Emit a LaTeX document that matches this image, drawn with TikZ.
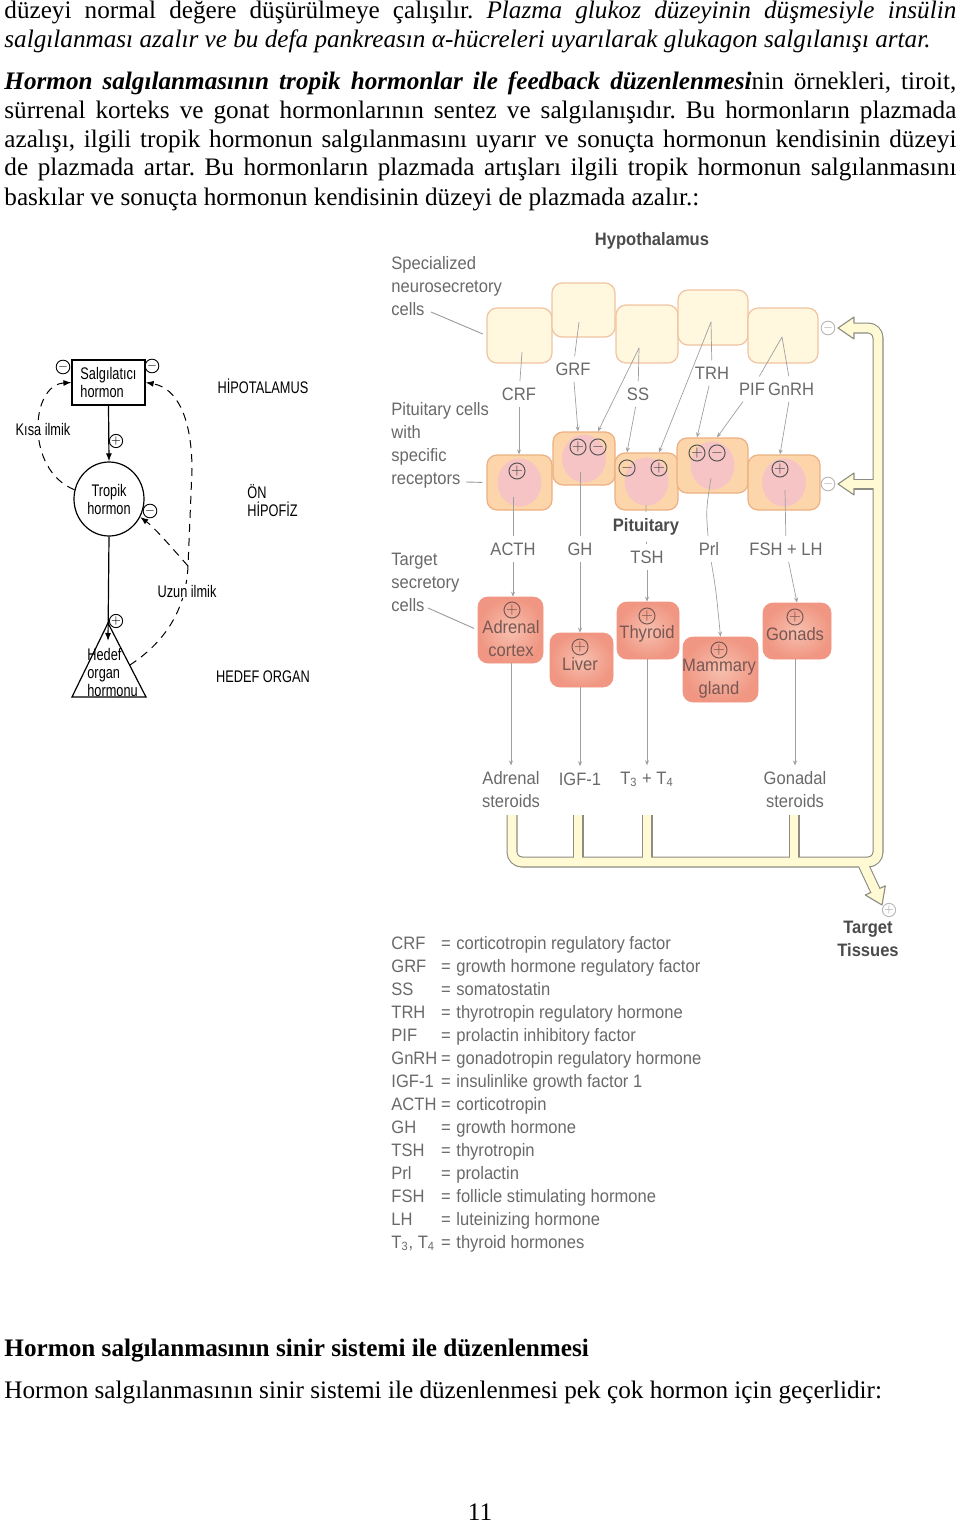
\documentclass[tikz,border=0pt]{standalone}
\usepackage{fontspec}
\setmainfont{Liberation Serif}
\newfontfamily\figfont{Liberation Sans}[FakeStretch=0.92]
\newfontfamily\condfont{Liberation Sans}[FakeStretch=0.76]
\usetikzlibrary{arrows.meta, positioning, calc, shapes.geometric}
\frenchspacing
\definecolor{labelgray}{RGB}{105,105,105}
\definecolor{titlegray}{RGB}{75,75,75}
\definecolor{hypofill}{RGB}{255,247,222}
\definecolor{hypoedge}{RGB}{240,196,160}
\definecolor{pitfill}{RGB}{252,214,170}
\definecolor{pitblob}{RGB}{246,196,196}
\definecolor{pitedge}{RGB}{236,176,130}
\definecolor{tgtouter}{RGB}{240,150,130}
\definecolor{tgtinner}{RGB}{247,192,175}
\definecolor{tgttext}{RGB}{120,88,84}
\definecolor{pipefill}{RGB}{255,250,212}
\definecolor{pipeedge}{RGB}{140,140,130}
\definecolor{signgray}{RGB}{85,85,85}

\begin{document}
\begin{tikzpicture}[
    x=0.5pt, y={(0pt,-0.5pt)},
    para/.style={inner sep=0pt, anchor=base west, font=\fontsize{12.6}{14}\selectfont},
    fig/.style={inner sep=1pt, text=labelgray, font=\figfont\fontsize{9}{11.5}\selectfont},
    figbold/.style={fig, text=titlegray, font=\figfont\bfseries\fontsize{9}{11.5}\selectfont},
    hlbl/.style={fig, inner sep=3pt},
    lft/.style={inner sep=0.5pt, font=\condfont\fontsize{8.4}{9}\selectfont},
    hcell/.style={draw=hypoedge, fill=hypofill, rounded corners=5pt, line width=0.6pt},
    pcell/.style={draw=pitedge, fill=pitfill, rounded corners=5pt, line width=0.6pt,
        path picture={\fill[pitblob] (path picture bounding box.center) ellipse (11pt and 12pt);}},
    tcell/.style={draw=tgtouter, shade, inner color=tgtinner, outer color=tgtouter, rounded corners=5pt},
    sgn/.style={circle, draw=signgray, line width=0.5pt, inner sep=0pt, minimum size=8pt, text=signgray, font=\fontsize{7}{7}\selectfont},
    tsgn/.style={sgn, draw=tgttext, text=tgttext},
    fbsgn/.style={sgn, draw=gray!55, text=gray!70, minimum size=6.5pt, font=\fontsize{5.5}{5.5}\selectfont},
    lsgn/.style={circle, draw, line width=0.45pt, inner sep=0pt, minimum size=5pt, font=\fontsize{5}{5}\selectfont},
    feed/.style={draw=gray!75, line width=0.35pt, -{Stealth[length=2.5pt,width=2pt]}},
    conn/.style={draw=gray!75, line width=0.35pt},
    leader/.style={draw=gray!80, line width=0.45pt, shorten >=2pt},
    larrow/.style={line width=0.6pt, -{Latex[length=4pt,width=3pt]}},
    loopd/.style={line width=0.5pt, dash pattern=on 4pt off 3pt, -{Latex[length=4pt,width=3pt]}},
    pipeout/.style={line width=5.5pt, draw=pipeedge, rounded corners=5pt},
    pipein/.style={line width=4.4pt, draw=pipefill, rounded corners=5pt},
    pipehead/.style={fill=pipefill, draw=pipeedge, line width=0.55pt, line join=round}
]
\useasboundingbox (0,0) rectangle (960,1525);

% running text above
\node[para] (t1) at (4,19) {\makebox[476pt][s]{düzeyi normal değere düşürülmeye çalışılır. \textit{Plazma glukoz düzeyinin düşmesiyle insülin}}};
\node[para] (t2) at (4,48) {\textit{salgılanması azalır ve bu defa pankreasın α-hücreleri uyarılarak glukagon salgılanışı artar.}};
\node[para] (t3) at (4,90) {\makebox[476pt][s]{\textbf{\textit{Hormon salgılanmasının tropik hormonlar ile feedback düzenlenmesi}}nin örnekleri, tiroit,}};
\node[para] (t4) at (4,119) {\makebox[476pt][s]{sürrenal korteks ve gonat hormonlarının sentez ve salgılanışıdır. Bu hormonların plazmada}};
\node[para] (t5) at (4,148) {\makebox[476pt][s]{azalışı, ilgili tropik hormonun salgılanmasını uyarır ve sonuçta hormonun kendisinin düzeyi}};
\node[para] (t6) at (4,176) {\makebox[476pt][s]{de plazmada artar. Bu hormonların plazmada artışları ilgili tropik hormonun salgılanmasını}};
\node[para] (t7) at (4,205) {baskılar ve sonuçta hormonun kendisinin düzeyi de plazmada azalır.:};

% left scheme: short and long loop
\node[draw, lft, line width=0.6pt, minimum width=36.5pt, minimum height=22.5pt, align=left] (srel) at (108.5,382.5) {Salgılatıcı\\hormon};
\node[draw, ellipse, lft, line width=0.6pt, minimum width=35pt, minimum height=37pt, inner sep=0pt, align=center] (trop) at (109,499) {Tropik\\hormon};
\coordinate (tapex) at (108,623);
\coordinate (tleft) at (72,697);
\coordinate (tright) at (146,697);
\draw[line width=0.6pt] (tapex) -- (tleft) -- (tright) -- cycle;
\node[lft, align=left, anchor=north west] (hedef) at (86,647) {Hedef\\organ\\hormonu};
\coordinate (tin) at (108,641);
\coordinate (tside) at ($(tapex)!0.57!(tright)$);
\coordinate (lbr) at (188,566);

\draw[larrow] (srel.south) -- (trop.north);
\draw[larrow] (trop.south) -- (tin);
\draw[loopd] (trop.165) .. controls (25,470) and (30,385) .. (srel.west);
\draw[loopd] (tside) .. controls (165,642) and (186,610) .. (lbr) -- (192,470) .. controls (192,420) and (178,388) .. (srel.east);
\draw[loopd] (lbr) .. controls (172,548) and (155,528) .. (trop.-30);

\node[lsgn] (ls1) at (63,367) {$-$};
\node[lsgn] (ls2) at (152,366) {$-$};
\node[lsgn] (ls3) at (116,441) {$+$};
\node[lsgn] (ls4) at (150,511) {$-$};
\node[lsgn] (ls5) at (116,621) {$+$};
\node[lft, fill=white] (kisa) at (43,429) {Kısa ilmik};
\node[lft, fill=white] (uzun) at (187,591) {Uzun ilmik};
\node[lft] (hipo) at (263,386) {HİPOTALAMUS};
\node[lft, align=left, anchor=west] (onhip) at (246,501) {ÖN\\HİPOFİZ};
\node[lft] (hdorg) at (263,677) {HEDEF ORGAN};

% hypothalamus cells
\node[figbold] (hypt) at (652,241) {Hypothalamus};
\node[hcell, minimum width=32.5pt, minimum height=27.5pt] (h1) at (519.5,335.5) {};
\node[hcell, minimum width=31.5pt, minimum height=27pt] (h2) at (583.5,310) {};
\node[hcell, minimum width=31pt, minimum height=29pt] (h3) at (647,334) {};
\node[hcell, minimum width=35pt, minimum height=27.5pt] (h4) at (713,317.5) {};
\node[hcell, minimum width=35pt, minimum height=27.5pt] (h5) at (783,335.5) {};

% pituitary cells
\node[pcell, minimum width=32.5pt, minimum height=27.5pt] (p1) at (519.5,482.5) {};
\node[pcell, minimum width=31pt, minimum height=26.5pt] (p2) at (584,458.5) {};
\node[pcell, minimum width=31.5pt, minimum height=28.5pt] (p3) at (646.5,481.5) {};
\node[pcell, minimum width=35.5pt, minimum height=27.5pt] (p4) at (712.5,465.5) {};
\node[pcell, minimum width=36pt, minimum height=27.5pt] (p5) at (784,482.5) {};
\node[sgn] (s1) at (517,471) {$+$};
\node[sgn] (s2a) at (578,447) {$+$};
\node[sgn] (s2b) at (598,447) {$-$};
\node[sgn] (s3a) at (627,468) {$-$};
\node[sgn] (s3b) at (659,468) {$+$};
\node[sgn] (s4a) at (697,453) {$+$};
\node[sgn] (s4b) at (717,453) {$-$};
\node[sgn] (s5) at (780,469) {$+$};

% target secretory cells
\node[tcell, minimum width=32.5pt, minimum height=33pt] (adr) at (510.5,630) {};
\node[tcell, minimum width=31.5pt, minimum height=27pt] (liv) at (581.5,660) {};
\node[tcell, minimum width=31pt, minimum height=28.5pt] (thy) at (648,630.5) {};
\node[tcell, minimum width=37.5pt, minimum height=32.5pt] (mam) at (720.5,669.5) {};
\node[tcell, minimum width=34pt, minimum height=28pt] (gon) at (797,631) {};
\node[tsgn] (sa) at (512,610) {$+$};
\node[tsgn] (sl) at (580,647) {$+$};
\node[tsgn] (st) at (647,616) {$+$};
\node[tsgn] (sm) at (719,650) {$+$};
\node[tsgn] (sg) at (795,617) {$+$};
\node[fig, text=tgttext, align=center] (adrt) at (511,639) {Adrenal\\cortex};
\node[fig, text=tgttext] (livt) at (580,664) {Liver};
\node[fig, text=tgttext] (thyt) at (647,634) {Thyroid};
\node[fig, text=tgttext, align=center] (mamt) at (719,679) {Mammary\\gland};
\node[fig, text=tgttext] (gont) at (795,634) {Gonads};

% side captions
\node[fig, align=left, anchor=west] (spc) at (389,286) {Specialized\\neurosecretory\\cells};
\node[fig, align=left, anchor=west] (pcl) at (389,445.5) {Pituitary cells\\with\\specific\\receptors};
\node[fig, align=left, anchor=west] (tsc) at (389,582) {Target\\secretory\\cells};
\coordinate (spcend) at (431,312);
\coordinate (pclend) at (466,482);
\coordinate (tscend) at (428,608);
\draw[leader] (spcend) -- (h1.west);
\draw[leader] (pclend) -- (p1.west);
\draw[leader] (tscend) -- (adr.west);

% releasing hormones
\coordinate (crfo) at (522,352);
\coordinate (grfo) at (579,322);
\coordinate (sso) at (639,348);
\coordinate (trho) at (711,322);
\coordinate (pgo) at (782,337);
\node[hlbl] (crf) at (519,394) {CRF};
\node[hlbl] (grf) at (573,369) {GRF};
\node[hlbl] (ss) at (638,394) {SS};
\node[hlbl] (trh) at (712,373) {TRH};
\node[hlbl] (pif) at (752,389) {PIF};
\node[hlbl] (gnrh) at (791,389) {GnRH};
\draw[conn] (crfo) -- (crf);
\draw[feed] (crf) -- (p1.north -| crf);
\draw[conn] (grfo) -- (grf);
\draw[feed] (grf) -- (p2.north -| s2a);
\draw[feed] (sso) -- (p2.north -| s2b);
\draw[conn] (sso) -- (ss);
\draw[feed] (ss) -- (p3.north -| s3a);
\draw[feed] (trho) -- (p3.north -| s3b);
\draw[conn] (trho) -- (trh);
\draw[feed] (trh) -- (p4.north -| s4a);
\draw[conn] (pgo) -- (pif);
\draw[feed] (pif) -- (p4.north -| s4b);
\draw[conn] (pgo) -- (gnrh);
\draw[feed] (gnrh) -- (p5.north -| s5);

% tropic hormones
\coordinate (acto) at (513,497);
\coordinate (gho) at (580,472);
\coordinate (tsho) at (646,505);
\coordinate (prlo) at (711,478);
\coordinate (fsho) at (785,490);
\node[hlbl] (acth) at (513,549) {ACTH};
\node[hlbl] (gh) at (580,549) {GH};
\node[figbold, inner sep=3pt] (pitl) at (646,527) {Pituitary};
\node[hlbl] (tsh) at (647,557) {TSH};
\node[hlbl] (prl) at (709,549) {Prl};
\node[hlbl] (fsh) at (786,549) {FSH + LH};
\draw[conn] (acto) -- (acth);
\draw[feed] (acth) -- (adr.north -| acth);
\draw[conn] (gho) -- (gh);
\draw[feed] (gh) -- (liv.north -| gh);
\draw[conn] (tsho) -- (pitl) -- (tsh);
\draw[feed] (tsh) -- (thy.north -| tsh);
\draw[conn] (prlo) .. controls (706,510) .. (prl);
\draw[feed] (prl) .. controls (716,590) .. (mam.north);
\draw[conn] (fsho) -- (fsh);
\draw[feed] (fsh) -- (gon.north);

% target hormones
\node[hlbl, align=center] (adrs) at (511,790) {Adrenal\\steroids};
\node[hlbl] (igf) at (580,779) {IGF-1};
\node[hlbl] (t34) at (647,779) {T\textsubscript{3} + T\textsubscript{4}};
\node[hlbl, align=center] (gons) at (795,790) {Gonadal\\steroids};
\draw[feed] (adr.south -| adrs) -- (adrs);
\draw[feed] (liv.south -| igf) -- (igf);
\draw[feed] (thy.south -| t34) -- (t34);
\draw[feed] (gon.south -| gons) -- (gons);

% feedback pipe
\coordinate (ps1) at (512,815);
\coordinate (ps2) at (578,815);
\coordinate (ps3) at (647,815);
\coordinate (ps4) at (794,815);
\coordinate (pcorner) at (878,862);
\coordinate (ptop) at (878,328);
\coordinate (pmid) at (878,484);
\coordinate (pdown) at (862,862);
\coordinate (ahA) at (838,328);
\coordinate (ahB) at (838,484);
\coordinate (ahC) at (882,905);
\coordinate (pdend) at (876.5,893);
\draw[pipeout] (ps1) |- (pcorner) -- (ptop) -- ($(ahA)+(14,0)$);
\draw[pipeout] (pmid) -- ($(ahB)+(14,0)$);
\draw[pipeout] (pdown) -- (pdend);
\foreach \s in {ps2,ps3,ps4}
  \draw[pipeout] (\s) -- (\s |- pcorner);
\filldraw[pipehead] (ahA) -- ++(16,-11) -- ++(0,22) -- cycle;
\filldraw[pipehead] (ahB) -- ++(16,-11) -- ++(0,22) -- cycle;
\filldraw[pipehead] (ahC) -- (885.3,885.8) -- (865.3,895.0) -- cycle;
\draw[pipein] (ps1) |- (pcorner) -- (ptop) -- ($(ahA)+(14,0)$);
\draw[pipein] (pmid) -- ($(ahB)+(14,0)$);
\draw[pipein] (pdown) -- (pdend);
\foreach \s in {ps2,ps3,ps4}
  \draw[pipein] (\s) -- (\s |- pcorner);
\node[fbsgn] (fb1) at (828,328) {$-$};
\node[fbsgn] (fb2) at (828,484) {$-$};
\node[fbsgn] (fb3) at (889,910) {$+$};
\node[figbold, align=center] (tgtt) at (868,939) {Target\\Tissues};

% legend
\foreach \ab/\df [count=\i from 0] in {CRF/corticotropin regulatory factor, GRF/growth hormone regulatory factor, SS/somatostatin, TRH/thyrotropin regulatory hormone, PIF/prolactin inhibitory factor, GnRH/gonadotropin regulatory hormone, IGF-1/insulinlike growth factor 1, ACTH/corticotropin, GH/growth hormone, TSH/thyrotropin, Prl/prolactin, FSH/follicle stimulating hormone, LH/luteinizing hormone, {T\textsubscript{3}, T\textsubscript{4}}/thyroid hormones}{
  \node[fig, anchor=base west, inner sep=0pt] (ab\i) at (391,949+23*\i) {\ab};
  \node[fig, anchor=base, inner sep=0pt] (eq\i) at (446,949+23*\i) {=};
  \node[fig, anchor=base west, inner sep=0pt] (df\i) at (456,949+23*\i) {\df};
}

% running text below
\node[para] (b1) at (4,1356) {\textbf{Hormon salgılanmasının sinir sistemi ile düzenlenmesi}};
\node[para] (b2) at (4,1398) {Hormon salgılanmasının sinir sistemi ile düzenlenmesi pek çok hormon için geçerlidir:};
\node[para, anchor=base] (pnum) at (480,1520) {11};
\end{tikzpicture}
\end{document}
